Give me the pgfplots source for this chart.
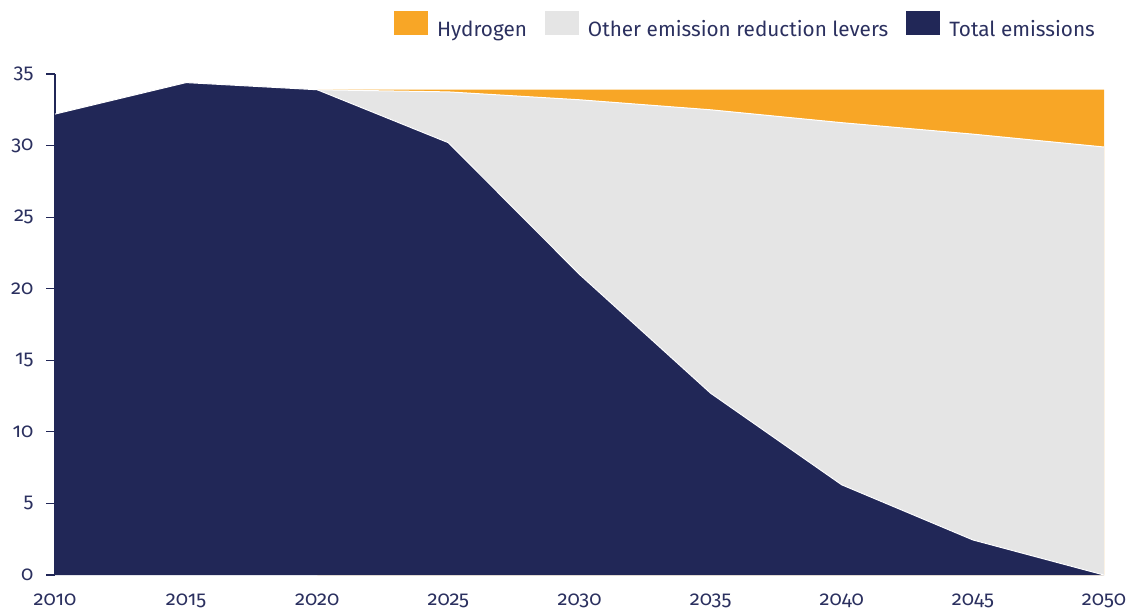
\documentclass[border=0pt]{standalone}
\usepackage{fontspec}
\setmainfont{Fira Sans}[Numbers=OldStyle]
\usepackage{pgfplots}
\pgfplotsset{compat=1.18}
\usetikzlibrary{calc}

\definecolor{navy}{HTML}{212757}
\definecolor{inktext}{HTML}{2B305F}
\definecolor{hydro}{HTML}{F8A626}
\definecolor{levers}{HTML}{E5E5E5}

\begin{document}
\begin{tikzpicture}
\begin{axis}[
  name=ax,
  scale only axis,
  width=1049bp, height=501bp,
  xmin=2010, xmax=2050,
  ymin=0, ymax=35,
  xtick={2010,2015,...,2050},
  ytick={0,5,...,35},
  axis y line*=left,
  axis x line*=bottom,
  x axis line style={draw=none},
  y axis line style={draw=navy, line width=1.2bp, -},
  xtick style={draw=none},
  ytick style={draw=navy, line width=1.2bp},
  tick align=outside,
  major tick length=9bp,
  every tick label/.append style={font=\fontsize{20.3}{23}\selectfont, text=inktext},
  yticklabel style={xshift=-9bp},
  xticklabel style={yshift=-6bp},
  /pgf/number format/assume math mode=true,
  /pgf/number format/1000 sep={},
  legend columns=3,
  legend style={
    at={(1,1)}, anchor=south east,
    xshift=-4bp, yshift=32bp,
    draw=none, fill=none,
    font=\fontsize{20.8}{24}\selectfont, text=inktext,
    /tikz/every odd column/.append style={column sep=7bp},
    /tikz/every even column/.append style={column sep=16bp},
  },
  legend image code/.code={
    \path[#1] (0bp,-6bp) rectangle (34bp,18bp);
  },
  clip=true,
]
% orange band: hydrogen contribution up to the 2020 level
\addplot[fill=hydro, draw=none] coordinates {
  (2020,33.9) (2025,33.9) (2030,33.9) (2035,33.9) (2040,33.9) (2045,33.9) (2050,33.9)
} \closedcycle;
\addlegendentry{Hydrogen}

% grey band: other reduction levers
\addplot[fill=levers, draw=none] coordinates {
  (2020,33.9) (2025,33.75) (2030,33.2) (2035,32.5) (2040,31.6) (2045,30.8) (2050,29.9)
} \closedcycle;
\addlegendentry{Other emission reduction levers}

% remaining total emissions
\addplot[fill=navy, draw=none] coordinates {
  (2010,32.2) (2015,34.4) (2020,33.9) (2025,30.2) (2030,21.0) (2035,12.7) (2040,6.3) (2045,2.45) (2050,0)
} \closedcycle;
\addlegendentry{Total emissions}

% thin white separators between the bands
\addplot[forget plot, white, line width=1bp] coordinates {
  (2020,33.9) (2025,33.75) (2030,33.2) (2035,32.5) (2040,31.6) (2045,30.8) (2050,29.9)
};
\addplot[forget plot, white, line width=1bp] coordinates {
  (2010,32.2) (2015,34.4) (2020,33.9) (2025,30.2) (2030,21.0) (2035,12.7) (2040,6.3) (2045,2.45) (2050,0)
};
\end{axis}
\path[use as bounding box] ($(ax.south west)+(-55bp,-38bp)$) rectangle ($(ax.north east)+(33bp,74bp)$);
\end{tikzpicture}
\end{document}
